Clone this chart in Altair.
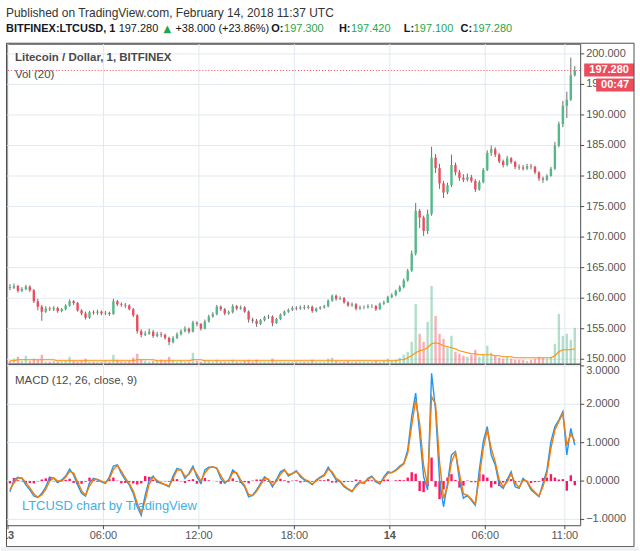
import altair as alt
import pandas as pd

# ---------------- data (15-minute bars) ----------------
START = "2018-02-13T00:00:00Z"
BAR_MIN = 15
FIRST_OPEN = 161.8

CLOSE = [
    161.7, 162.0, 161.2, 161.5, 161.9, 161.3, 159.5, 158.6, 157.8, 158.3,
    158.2, 158.4, 157.9, 158.2, 158.8, 159.5, 159.2, 158.0, 157.5, 156.8,
    157.7, 157.6, 157.8, 157.5, 157.6, 157.4, 159.5, 159.0, 158.9, 158.8,
    158.2, 157.2, 154.6, 154.0, 154.2, 154.5, 153.8, 154.1, 154.0, 153.5,
    152.8, 153.5, 154.1, 154.6, 155.0, 154.5, 156.0, 155.8, 155.0, 156.2,
    157.0, 157.4, 158.6, 158.2, 157.5, 157.7, 158.7, 158.3, 158.5, 157.8,
    156.5, 156.3, 155.8, 156.4, 156.9, 157.0, 155.9, 156.6, 157.3, 157.8,
    158.1, 158.4, 158.3, 158.5, 158.4, 158.6, 157.9, 158.3, 158.5, 158.7,
    159.6, 160.4, 159.9, 160.0, 159.3, 158.8, 159.0, 158.3, 158.5, 158.5,
    158.7, 158.7, 158.2, 159.1, 159.3, 160.2, 160.5, 161.2, 161.8, 162.9,
    164.5, 167.3, 174.3, 173.2, 171.0, 173.8, 183.0, 181.3, 178.8, 177.3,
    178.5, 181.8, 180.6, 179.7, 179.4, 179.8, 179.2, 177.8, 179.0, 181.0,
    183.8, 184.4, 183.5, 182.4, 181.8, 182.9, 182.3, 181.5, 181.4, 181.2,
    181.6, 181.5, 180.6, 179.6, 179.4, 180.0, 181.2, 185.0, 188.5, 191.5,
    192.5, 196.5, 197.28,
]
HIGH = [
    162.3, 162.4, 162.2, 161.8, 162.2, 162.1, 161.5, 159.9, 158.9, 158.7,
    158.6, 158.7, 158.6, 158.4, 159.0, 159.8, 159.7, 159.4, 158.2, 157.8,
    157.9, 158.0, 158.1, 158.0, 157.9, 157.8, 159.9, 159.7, 159.3, 159.2,
    159.0, 158.4, 157.4, 154.9, 154.6, 155.0, 154.8, 154.5, 154.5, 154.2,
    153.7, 153.8, 154.4, 154.9, 155.4, 155.2, 156.3, 156.2, 155.9, 156.5,
    157.3, 157.7, 158.9, 158.8, 158.4, 158.0, 159.0, 158.9, 158.8, 158.7,
    158.0, 156.8, 156.6, 156.6, 157.1, 157.3, 157.2, 156.8, 157.5, 158.0,
    158.3, 158.7, 158.7, 158.8, 158.9, 158.9, 158.8, 158.5, 158.7, 158.9,
    159.8, 160.6, 160.6, 160.3, 160.2, 159.5, 159.3, 159.2, 158.8, 158.8,
    159.0, 159.0, 158.9, 159.3, 159.6, 160.4, 160.8, 161.4, 162.1, 163.2,
    164.8, 167.8, 175.6, 174.6, 173.5, 174.5, 184.8, 183.6, 182.0, 179.2,
    178.9, 183.5, 182.2, 181.0, 180.3, 180.4, 180.2, 179.5, 179.3, 181.3,
    184.2, 185.0, 184.7, 183.8, 182.7, 183.3, 183.1, 182.5, 181.9, 181.8,
    182.0, 182.0, 181.7, 180.8, 179.9, 180.3, 181.5, 185.6, 188.9, 192.3,
    193.8, 199.4, 198.0,
]
LOW = [
    161.3, 161.5, 160.9, 161.0, 161.3, 161.0, 159.2, 158.0, 156.3, 157.6,
    157.9, 157.9, 157.6, 157.7, 158.0, 158.6, 158.9, 157.8, 157.2, 156.5,
    156.6, 157.3, 157.3, 157.2, 157.2, 157.1, 157.3, 158.7, 158.6, 158.4,
    158.0, 156.9, 154.2, 153.6, 153.8, 154.0, 153.5, 153.6, 153.6, 153.2,
    152.3, 152.6, 153.3, 153.9, 154.4, 154.2, 154.4, 155.4, 154.7, 154.9,
    156.0, 156.8, 157.2, 157.9, 157.2, 157.3, 157.5, 158.0, 158.1, 157.6,
    156.0, 155.9, 155.3, 155.6, 156.2, 156.6, 155.4, 155.8, 156.4, 157.1,
    157.6, 157.9, 158.0, 158.1, 158.1, 158.2, 157.6, 157.7, 158.1, 158.3,
    158.5, 159.4, 159.6, 159.7, 159.1, 158.6, 158.6, 158.0, 158.1, 158.2,
    158.3, 158.4, 157.9, 158.1, 158.9, 159.2, 160.0, 160.3, 161.0, 161.6,
    162.7, 164.3, 167.0, 171.5, 170.2, 170.5, 173.5, 180.5, 177.9, 176.4,
    177.0, 178.2, 180.1, 179.2, 179.0, 179.1, 178.9, 177.4, 177.6, 178.8,
    180.8, 183.3, 183.1, 182.1, 181.4, 181.6, 182.0, 181.1, 181.0, 180.9,
    181.0, 181.1, 180.3, 179.2, 178.9, 179.2, 179.9, 181.0, 184.7, 188.0,
    189.5, 192.3, 196.3,
]
VOLUME = [
    3, 5, 7, 3, 8, 3, 5, 4, 9, 2,
    2, 3, 2, 2, 3, 7, 3, 2, 3, 5,
    2, 2, 2, 2, 3, 2, 9, 4, 2, 2,
    3, 6, 10, 4, 3, 2, 3, 3, 4, 3,
    7, 3, 2, 3, 2, 2, 11, 3, 2, 3,
    3, 2, 4, 2, 2, 2, 4, 2, 2, 3,
    4, 2, 4, 2, 2, 2, 5, 2, 2, 2,
    2, 2, 2, 2, 2, 2, 4, 2, 2, 2,
    5, 6, 3, 2, 2, 3, 2, 2, 2, 2,
    2, 2, 3, 2, 3, 5, 3, 4, 6, 9,
    12, 22, 60, 30, 22, 42, 78, 48, 30, 25,
    16, 28, 12, 10, 8, 7, 9, 14, 7, 9,
    18, 11, 8, 6, 5, 7, 5, 4, 4, 4,
    3, 4, 5, 7, 6, 5, 7, 20, 50, 28,
    30, 24, 36,
]
VOL_MA = [
    3, 3, 4, 4, 4, 4, 4, 4, 4, 4,
    4, 4, 3, 3, 3, 3, 3, 3, 3, 3,
    3, 3, 3, 3, 3, 3, 3, 3, 3, 3,
    3, 3, 4, 4, 4, 4, 4, 3, 3, 3,
    3, 3, 3, 3, 3, 3, 4, 4, 4, 3,
    3, 3, 3, 3, 3, 3, 3, 3, 3, 3,
    3, 3, 3, 3, 3, 3, 3, 3, 3, 3,
    3, 3, 3, 3, 3, 3, 3, 3, 3, 3,
    3, 3, 3, 3, 3, 3, 3, 3, 3, 3,
    3, 3, 3, 3, 3, 3, 3, 3, 4, 4,
    6, 8, 11, 13, 14, 16, 20, 21, 20, 18,
    17, 16, 15, 13, 12, 11, 10, 10, 9, 9,
    9, 9, 8, 8, 7, 7, 7, 6, 6, 6,
    6, 6, 6, 6, 6, 6, 6, 8, 12, 14,
    14, 14, 15,
]
MACD = [
    -0.28, 0.03, 0.10, 0.07, -0.10, -0.23, -0.39, -0.43, -0.32, -0.15,
    0.10, 0.07, -0.04, 0.03, 0.13, 0.31, 0.16, -0.10, -0.32, -0.39,
    -0.04, 0.07, 0.03, -0.02, -0.06, 0.11, 0.39, 0.42, 0.20, 0.03,
    -0.10, -0.32, -0.67, -0.89, -0.37, 0.03, 0.13, -0.02, -0.06, -0.10,
    -0.15, 0.13, 0.33, 0.29, 0.07, 0.20, 0.39, 0.11, -0.06, 0.29,
    0.36, 0.37, 0.33, 0.07, -0.06, 0.03, 0.29, 0.20, -0.02, -0.15,
    -0.41, -0.37, -0.23, -0.06, 0.11, 0.03, -0.15, 0.03, 0.24, 0.30,
    0.13, 0.20, 0.27, 0.11, 0.03, -0.02, -0.10, 0.03, 0.10, 0.16,
    0.36, 0.20, 0.03, -0.02, -0.15, -0.22, -0.28, -0.10, -0.02, -0.06,
    0.07, 0.13, -0.02, -0.08, 0.11, 0.24, 0.22, 0.29, 0.39, 0.46,
    0.81, 1.68, 2.29, 1.24, 0.11, -0.23, 2.81, 1.85, 0.03, -0.67,
    -0.06, 0.68, 0.77, 0.03, -0.45, -0.37, -0.50, -0.63, 0.29, 1.03,
    1.42, 0.68, 0.42, -0.10, -0.19, 0.03, 0.24, -0.15, -0.19, 0.07,
    -0.02, -0.23, -0.32, -0.41, -0.06, 0.29, 1.03, 1.42, 1.59, 1.81,
    0.68, 1.37, 0.94,
]
SIGNAL = [
    -0.22, -0.05, 0.08, 0.08, -0.04, -0.18, -0.33, -0.42, -0.36, -0.22,
    0.00, 0.08, 0.00, 0.00, 0.10, 0.25, 0.21, -0.02, -0.25, -0.37,
    -0.13, 0.04, 0.05, 0.00, -0.05, 0.06, 0.30, 0.41, 0.26, 0.08,
    -0.07, -0.26, -0.58, -0.83, -0.50, -0.08, 0.10, 0.02, -0.05, -0.09,
    -0.13, 0.06, 0.28, 0.30, 0.12, 0.17, 0.34, 0.18, 0.00, 0.21,
    0.34, 0.37, 0.34, 0.14, -0.02, 0.00, 0.22, 0.22, 0.03, -0.12,
    -0.35, -0.38, -0.27, -0.10, 0.07, 0.05, -0.11, -0.01, 0.18, 0.28,
    0.17, 0.19, 0.25, 0.15, 0.05, 0.00, -0.08, 0.00, 0.08, 0.14,
    0.31, 0.24, 0.07, 0.00, -0.12, -0.20, -0.26, -0.14, -0.04, -0.05,
    0.04, 0.11, 0.01, -0.06, 0.07, 0.20, 0.22, 0.27, 0.36, 0.44,
    0.72, 1.45, 2.10, 1.50, 0.40, -0.10, 2.20, 2.00, 0.50, -0.45,
    -0.15, 0.50, 0.74, 0.20, -0.33, -0.38, -0.47, -0.60, 0.10, 0.86,
    1.33, 0.85, 0.50, 0.03, -0.15, -0.02, 0.19, -0.06, -0.17, 0.02,
    0.00, -0.18, -0.29, -0.39, -0.14, 0.20, 0.85, 1.33, 1.55, 1.76,
    0.93, 1.22, 1.05,
]

PRICE_TICKS = [150, 155, 160, 165, 170, 175, 180, 185, 190, 195, 200]
MACD_TICKS = [-1, 0, 1, 2, 3]
TIME_TICKS = ["2018-02-13T00:00:00Z", "2018-02-13T06:00:00Z", "2018-02-13T12:00:00Z",
              "2018-02-13T18:00:00Z", "2018-02-14T00:00:00Z", "2018-02-14T06:00:00Z",
              "2018-02-14T11:00:00Z"]
TIME_LABELS = ["13", "06:00", "12:00", "18:00", "14", "06:00", "11:00"]
DAY_LABEL = [True, False, False, False, True, False, False]
X_DOMAIN = ["2018-02-12T23:56:14Z", "2018-02-14T11:57:54Z"]
PRICE_DOMAIN = [149.27, 201.66]
MACD_DOMAIN = [-1.151, 3.057]
VOL_DOMAIN = [0, 321]

LAST_PRICE = 197.28
LAST_OHLC = [197.300, 197.420, 197.100, 197.280]
CHANGE = 38.000
CHANGE_PCT = 23.86
COUNTDOWN = "00:47"
PUBLISHED = "Published on TradingView.com, February 14, 2018 11:37 UTC"
SYMBOL = "BITFINEX:LTCUSD, 1"
PANE_TITLE = "Litecoin / Dollar, 1, BITFINEX"
VOL_TITLE = "Vol (20)"
MACD_TITLE = "MACD (12, 26, close, 9)"
WATERMARK = "LTCUSD chart by TradingView"

# ---------------- styles ----------------
FONT = "Liberation Sans"
GREEN = "#53b987"
RED = "#eb4d5c"
WICK = "#6e6e6e"
GRID = "#e1e9f1"
FRAME = "#4d4d4d"
LBL = "#555555"
TXT = "#4a4a4a"
HGREEN = "#1fa64a"
BLUE = "#2196f3"
ORANGE = "#f57c00"
PINK = "#ff1464"

W = 575
H_HEAD = 42
H_PRICE = 321
H_MACD = 162


def ms(s):
    return int(pd.Timestamp(s).value // 1_000_000)


t0 = ms(START)
times = [t0 + (i * BAR_MIN + BAR_MIN / 2) * 60000 for i in range(len(CLOSE))]
opens = [FIRST_OPEN] + CLOSE[:-1]
hist = [round(m - s, 3) for m, s in zip(MACD, SIGNAL)]

df = pd.DataFrame(dict(t=times, o=opens, h=HIGH, l=LOW, c=CLOSE, vol=VOLUME,
                       vma=VOL_MA, macd=MACD, sig=SIGNAL, hist=hist))
one = pd.DataFrame({"k": [0]})
last_df = pd.DataFrame({"p": [LAST_PRICE]})
ptick_df = pd.DataFrame({"v": PRICE_TICKS})
mtick_df = pd.DataFrame({"v": MACD_TICKS})
mlab_df = mtick_df[mtick_df["v"] < max(MACD_TICKS)]
mtop_df = mtick_df[mtick_df["v"] == max(MACD_TICKS)]
ttick_df = pd.DataFrame({"t": [ms(s) for s in TIME_TICKS], "lab": TIME_LABELS, "day": DAY_LABEL})

xscale = alt.Scale(type="utc", domain=[ms(s) for s in X_DOMAIN], nice=False)
pscale = alt.Scale(domain=PRICE_DOMAIN, nice=False, zero=False)
mscale = alt.Scale(domain=MACD_DOMAIN, nice=False, zero=False)
vscale = alt.Scale(domain=VOL_DOMAIN, nice=False, zero=False)

up = "datum.c >= datum.o"
X = alt.X("t:T", scale=xscale, axis=None)
PY = lambda f: alt.Y(f, scale=pscale, axis=None)
MY = lambda f: alt.Y(f, scale=mscale, axis=None)


def txt(x, y, text, color=TXT, weight="normal", size=12, align="left", font=FONT):
    return alt.Chart(one).mark_text(align=align, baseline="middle", fontSize=size,
                                    fontWeight=weight, color=color, font=font).encode(
        x=alt.value(x), y=alt.value(y), text=alt.value(text))


# ---------------- header (plot origin at x=6) ----------------
hx = -6
header = alt.layer(
    txt(5 + hx, 11, PUBLISHED, color="#333333", size=12),
    txt(5 + hx, 27, SYMBOL, color="#131722", weight="bold", size=11),
    txt(118 + hx, 27, f"{LAST_PRICE:.3f}", color="#131722", size=11),
    txt(163 + hx, 27, "\u25b2", color=HGREEN, size=10, font="DejaVu Sans"),
    txt(175 + hx, 27, f"+{CHANGE:.3f} (+{CHANGE_PCT:.2f}%)", color="#131722", size=11),
    txt(271 + hx, 27, "O:", color="#131722", weight="bold", size=11),
    txt(284 + hx, 27, f"{LAST_OHLC[0]:.3f}", color=HGREEN, size=11),
    txt(339 + hx, 27, "H:", color="#131722", weight="bold", size=11),
    txt(351 + hx, 27, f"{LAST_OHLC[1]:.3f}", color=HGREEN, size=11),
    txt(404 + hx, 27, "L:", color="#131722", weight="bold", size=11),
    txt(414 + hx, 27, f"{LAST_OHLC[2]:.3f}", color=HGREEN, size=11),
    txt(461 + hx, 27, "C:", color="#131722", weight="bold", size=11),
    txt(473 + hx, 27, f"{LAST_OHLC[3]:.3f}", color=HGREEN, size=11),
).properties(width=W, height=H_HEAD, view=alt.ViewBackground(stroke="transparent"))

# ---------------- price pane ----------------
base = alt.Chart(df)

p_grid = alt.layer(
    alt.Chart(ptick_df).mark_rule(color=GRID, strokeWidth=1).encode(y=PY("v:Q")),
    alt.Chart(ttick_df).mark_rule(color=GRID, strokeWidth=1).encode(x=X),
)

vol_layer = alt.layer(
    base.mark_rule(strokeWidth=2.4, opacity=0.45).encode(
        x=X, y=alt.Y("vol:Q", scale=vscale, axis=None), y2=alt.datum(0),
        color=alt.condition(up, alt.value(GREEN), alt.value(RED))),
    base.mark_line(color="#ff9100", strokeWidth=1.2).encode(
        x=X, y=alt.Y("vma:Q", scale=vscale, axis=None)),
)

main_layer = alt.layer(
    base.mark_rule(color=WICK, strokeWidth=1).encode(x=X, y=PY("l:Q"), y2="h:Q"),
    base.mark_rule(strokeWidth=2.4).encode(
        x=X, y=PY("o:Q"), y2="c:Q",
        color=alt.condition(up, alt.value(GREEN), alt.value(RED))),
    alt.Chart(ptick_df).mark_rule(color=FRAME, strokeWidth=1).encode(
        x=alt.value(W), x2=alt.value(W + 4), y=PY("v:Q")),
    alt.Chart(ptick_df).mark_text(align="left", baseline="middle", fontSize=11,
                                  color=LBL, font=FONT).encode(
        x=alt.value(W + 6), y=PY("v:Q"), text=alt.Text("v:Q", format=".3f")),
    alt.Chart(last_df).mark_rule(color=RED, strokeDash=[1, 2], strokeWidth=1).encode(y=PY("p:Q")),
    alt.Chart(last_df).mark_rect(color=RED, yOffset=-7, y2Offset=6).encode(
        x=alt.value(579), x2=alt.value(629), y=PY("p:Q"), y2="p:Q"),
    alt.Chart(last_df).mark_text(color="white", fontWeight="bold", fontSize=11,
                                 align="center", baseline="middle", font=FONT).encode(
        x=alt.value(604), y=PY("p:Q"), text=alt.Text("p:Q", format=".3f")),
    alt.Chart(one).mark_rect(color=RED).encode(
        x=alt.value(591), x2=alt.value(629), y=alt.value(35), y2=alt.value(48)),
    txt(610, 41.5, COUNTDOWN, color="white", weight="bold", size=11, align="center"),
    txt(8, 14.7, PANE_TITLE, color=TXT, weight="bold", size=11.5),
    txt(8, 31, VOL_TITLE, color=TXT, size=11.5),
)

price = alt.layer(p_grid, vol_layer, main_layer).resolve_scale(y="independent").properties(
    width=W, height=H_PRICE)

# ---------------- MACD pane ----------------
day_df = ttick_df[ttick_df["day"]]
hour_df = ttick_df[~ttick_df["day"]]

macd = alt.layer(
    alt.Chart(mtick_df).mark_rule(color=GRID, strokeWidth=1).encode(y=MY("v:Q")),
    alt.Chart(ttick_df).mark_rule(color=GRID, strokeWidth=1).encode(x=X),
    base.mark_rule(strokeWidth=2.4, color=PINK).encode(x=X, y=MY("hist:Q"), y2=alt.datum(0)),
    base.mark_line(color=BLUE, strokeWidth=1.4).encode(x=X, y=MY("macd:Q")),
    base.mark_line(color=ORANGE, strokeWidth=1.4).encode(x=X, y=MY("sig:Q")),
    alt.Chart(mtick_df).mark_rule(color=FRAME, strokeWidth=1).encode(
        x=alt.value(W), x2=alt.value(W + 4), y=MY("v:Q")),
    alt.Chart(mlab_df).mark_text(align="left", baseline="middle", fontSize=11,
                                 color=LBL, font=FONT).encode(
        x=alt.value(W + 6), y=MY("v:Q"), text=alt.Text("v:Q", format=".4f")),
    alt.Chart(mtop_df).mark_text(align="left", baseline="top", fontSize=11, dy=-1,
                                 color=LBL, font=FONT).encode(
        x=alt.value(W + 6), y=MY("v:Q"), text=alt.Text("v:Q", format=".4f")),
    alt.Chart(ttick_df).mark_rule(color=FRAME, strokeWidth=1).encode(
        x=X, y=alt.value(H_MACD), y2=alt.value(H_MACD + 4)),
    alt.Chart(hour_df).mark_text(align="center", baseline="middle", fontSize=11,
                                 color=LBL, font=FONT).encode(
        x=X, y=alt.value(H_MACD + 11), text="lab:N"),
    alt.Chart(day_df).mark_text(align="center", baseline="middle", fontSize=11,
                                color=LBL, font=FONT, fontWeight="bold").encode(
        x=X, y=alt.value(H_MACD + 11), text="lab:N"),
    txt(8, 17, MACD_TITLE, color=TXT, size=11.5),
    txt(15, 143, WATERMARK, color="#3fb1e5", size=13),
    alt.Chart(one).mark_rect(color="white").encode(
        x=alt.value(-6), x2=alt.value(-1), y=alt.value(163), y2=alt.value(181)),
    alt.Chart(one).mark_rect(fillOpacity=0, stroke=FRAME, strokeWidth=1).encode(
        x=alt.value(-0.5), x2=alt.value(629), y=alt.value(-321.5), y2=alt.value(183.5)),
    alt.Chart(one).mark_rect(color="#eff2f5").encode(
        x=alt.value(-6), x2=alt.value(634), y=alt.value(184), y2=alt.value(188)),
).properties(width=W, height=H_MACD)

chart = alt.vconcat(header, price, macd, spacing=0, bounds="flush").properties(
    padding={"left": 0, "top": 0, "right": 0, "bottom": 0},
    background="white",
).configure_view(stroke=FRAME, strokeWidth=1)

chart.save("out.html", embed_options={"renderer": "svg", "actions": False})
